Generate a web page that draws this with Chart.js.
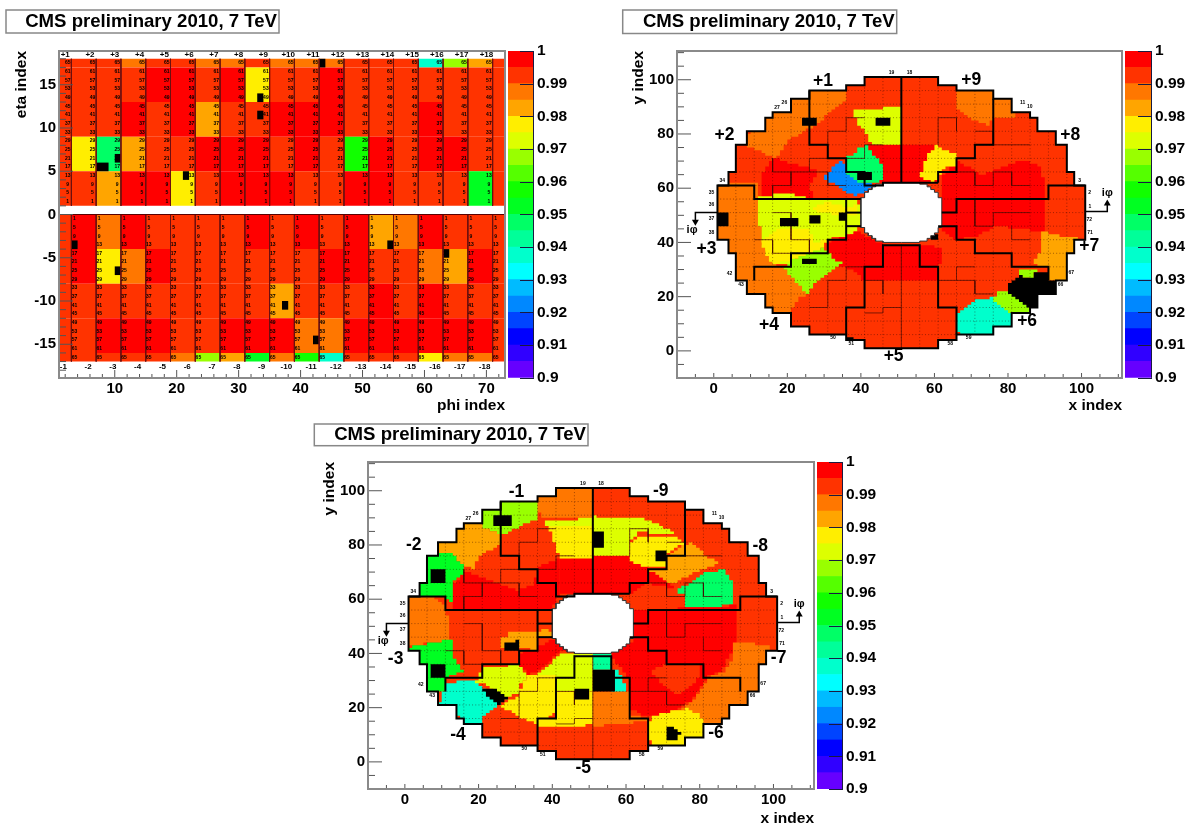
<!DOCTYPE html>
<html>
<head>
<meta charset="utf-8">
<script src="https://cdn.jsdelivr.net/npm/chart.js@4"></script>
<style>
html, body { margin: 0; background: #fff; overflow: hidden; }
canvas { position: absolute; }
</style>
</head>
<body>
<canvas id="hb" style="left:0;top:0" width="510" height="416"></canvas>
<canvas id="hbBar" style="left:500px;top:30px" width="90" height="360"></canvas>
<canvas id="hePlus" style="left:600px;top:0" width="530" height="416"></canvas>
<canvas id="hePlusBar" style="left:1117px;top:30px" width="75" height="360"></canvas>
<canvas id="heMinus" style="left:290px;top:415px" width="530" height="414"></canvas>
<canvas id="heMinusBar" style="left:809px;top:442px" width="90" height="360"></canvas>
<script>
// efficiency (middle of its palette band)
const R = 0.9975, O1 = 0.9925, O2 = 0.9875, A = 0.9825, Y = 0.9775, LY = 0.9725;
const LG = 0.9675, G1 = 0.9575, G2 = 0.9525, G3 = 0.9475, G4 = 0.9425, C1 = 0.9375, B1 = 0.9225;

const bandLow = [0.9, 0.905, 0.91, 0.915, 0.92, 0.925, 0.93, 0.935, 0.94, 0.945, 0.95, 0.955, 0.96, 0.965, 0.97, 0.975, 0.98, 0.985, 0.99, 0.995];
const palette = ['#6600ff', '#3000ff', '#0000ff', '#0044ff', '#0088ff', '#00bbff', '#00ffff', '#00ffcc', '#00ff99', '#00ff66', '#00ff22', '#11ff00', '#55ff00', '#99ff00', '#ddff00', '#ffee00', '#ffa500', '#ff7700', '#ff3300', '#ff0000'];
const barTicks = [0.9, 0.91, 0.92, 0.93, 0.94, 0.95, 0.96, 0.97, 0.98, 0.99, 1];

// barrel: columns are phi 1-3, then the wedges of 4 phi, then 71-73
const phiEdges = [1, 3, 7, 11, 15, 19, 23, 27, 31, 35, 39, 43, 47, 51, 55, 59, 63, 67, 71, 73];
const plusEta17 = [O1, O1, O1, O2, O1, O1, O2, O2, O1, O2, O2, O2, O1, O1, O1, C1, LG, A, O1];
const plusEta13 = [O1, O1, O1, O1, R, R, O1, R, Y, O1, O1, R, O1, O1, O1, O1, O1, O1, O1];
const plusEta9 = [O1, O1, O1, R, O1, R, A, O1, O1, R, R, R, O1, O1, O1, R, O1, O1, O1];
const plusEta5 = [O1, Y, G3, A, O1, O1, R, R, R, O1, R, O1, G1, R, O1, R, R, O1, O1];
const plusEta1 = [O1, O1, A, R, R, Y, O1, R, R, R, O1, O1, R, R, O1, O1, O1, G2, O1];
const minusEta0 = [O1, R, O2, R, O1, O1, O1, O1, R, O1, R, O1, R, A, O2, R, O1, O1, O1];
const minusEta4 = [O1, R, Y, O2, R, O1, O1, O1, O1, O1, O1, R, R, O1, O1, O2, A, R, O1];
const minusEta8 = [O1, O1, O1, O1, O1, O1, O1, O1, O1, A, O1, O1, O1, R, O1, R, O1, O1, O1];
const minusEta12 = [O1, O1, R, R, R, O1, O1, R, R, R, O2, O2, R, R, R, R, R, R, O1];
const minusEta16 = [O1, O1, O1, O1, O1, O2, LG, A, G2, O2, G1, C1, O1, O1, O1, Y, O2, O2, O1];
const barrelRows = [
	[18, 17, plusEta17], [17, 13, plusEta13], [13, 9, plusEta9], [9, 5, plusEta5], [5, 1, plusEta1],
	[0, -4, minusEta0], [-4, -8, minusEta4], [-8, -12, minusEta8], [-12, -16, minusEta12], [-16, -17, minusEta16]
];
// dead towers [phi from, phi to, eta from, eta to]
const barrelDead = [[33, 34, 13, 14], [33, 34, 11, 12], [10, 11, 6, 7], [7, 9, 5, 6], [21, 22, 4, 5], [43, 44, 17, 18],
	[3, 4, -4, -3], [10, 11, -7, -6], [37, 38, -11, -10], [42, 43, -15, -14], [54, 55, -4, -3], [63, 64, -5, -4]];
const towerNumbers = [65, 61, 57, 53, 49, 45, 41, 37, 33, 29, 25, 21, 17, 13, 9, 5, 1];
const barrelXTicks = [10, 20, 30, 40, 50, 60, 70];
const barrelYTicks = [-15, -10, -5, 0, 5, 10, 15];

// endcap geometry, in x/y index
const ringUpperLeft = [[51, 101], [41, 101], [41, 98], [36, 98], [36, 96], [26, 96], [26, 93], [21, 93], [21, 88], [16, 88], [16, 86], [14, 86], [14, 81], [9, 81], [9, 76], [6, 76], [6, 66], [4, 66], [4, 61], [1, 61], [1, 51]];
const holeUpperLeft = [[51, 62], [46, 62], [46, 61.5], [44, 61.5], [44, 60.5], [43, 60.5], [43, 59.5], [42, 59.5], [42, 58.5], [41, 58.5], [41, 56.5], [40, 56.5], [40, 51]];
const sectorLines = [
	[[51, 101], [51, 62]],
	[[26, 96], [26, 76], [31, 76], [31, 71], [36, 71], [36, 66], [41, 66], [41, 61], [46, 61], [46, 62], [61, 62]],
	[[1, 61], [11, 61], [11, 56], [36, 56], [40, 56]],
	[[36, 56], [36, 41], [31, 41], [31, 36], [21, 36], [21, 31], [11, 31], [11, 26]],
	[[36, 51], [40, 51]], [[36, 46], [40, 46]],
	[[36, 6], [36, 16], [41, 16], [41, 31], [46, 31], [46, 39], [56, 39], [56, 31], [61, 31], [61, 16], [66, 16], [66, 6]],
	[[91, 26], [91, 31], [81, 31], [81, 36], [71, 36], [71, 41], [66, 41], [66, 46], [61, 46]],
	[[101, 61], [91, 61], [91, 56], [66, 56], [66, 51], [62, 51]],
	[[76, 93], [76, 76], [71, 76], [71, 71], [66, 71], [66, 66], [61, 66], [61, 62]]
];
const thinLines = [
	[[51, 1], [51, 39]], [[16, 71], [16, 66], [21, 66], [26, 66], [26, 71], [31, 71]], [[21, 66], [21, 61], [16, 61], [16, 56]],
	[[26, 66], [31, 66], [31, 61], [36, 61]], [[31, 76], [31, 81], [36, 81], [36, 86], [41, 86]], [[36, 71], [41, 71], [41, 76], [46, 76]],
	[[11, 41], [16, 41], [16, 36], [21, 36]], [[16, 51], [21, 51], [21, 41], [26, 41], [26, 36]],
	[[31, 21], [31, 26], [36, 26], [36, 31], [41, 31]], [[26, 16], [31, 16], [31, 21]], [[41, 14], [46, 14], [46, 16], [51, 16]], [[41, 26], [46, 26], [46, 21]],
	[[66, 66], [71, 66], [71, 61], [76, 61], [76, 66], [81, 66], [81, 61], [86, 61]], [[71, 81], [76, 81], [76, 76], [86, 76]], [[66, 26], [71, 26], [71, 21], [76, 21]],
	[[61, 76], [61, 86], [66, 86], [66, 81]], [[71, 56], [71, 46], [76, 46], [76, 51], [86, 51]], [[86, 41], [81, 41], [81, 46]], [[61, 26], [66, 26], [66, 31], [71, 31]]
];
const indexLabels = [['19', 48.3, 102.8], ['18', 53.2, 102.8], ['26', 19.2, 91.6], ['27', 17.2, 89.6], ['34', 2.3, 62.8], ['35', -0.6, 58.4], ['36', -0.6, 53.8],
	['37', -0.6, 48.7], ['38', -0.6, 43.7], ['42', 4.3, 28.4], ['43', 7.4, 24.6], ['50', 32.4, 4.8], ['51', 37.4, 2.6], ['58', 64.3, 2.6], ['59', 69.3, 4.8],
	['66', 94.3, 24.6], ['67', 97.2, 28.7], ['71', 102.3, 43.7], ['72', 102.1, 48.4], ['1', 102.3, 53.3], ['2', 102.2, 58.4], ['3', 99.5, 62.7], ['10', 85.9, 90], ['11', 84, 91.5]];
const endcapTicks = [0, 20, 40, 60, 80, 100];

// plus endcap: blocks of equal efficiency, painted in this order
const plusRegions = [
	[O2, [[8, 78], [20, 100], [36, 100], [36, 92], [31, 87], [28, 83], [21, 78], [17, 71], [9, 76]]],
	[R, [[13, 66], [16, 71], [21, 69], [29, 66], [26, 61], [27, 56], [13, 56]]],
	[R, [[42, 76.3], [60.5, 76], [60.5, 62], [45, 62], [45, 68]]],
	[B1, [[29, 64.3], [34.9, 70.5], [36.2, 66], [41.2, 61.6], [44.4, 61.2], [39.1, 56.9], [32.6, 61.8]]],
	[G3, [[36, 71.7], [41.2, 76], [45.7, 68], [45.9, 62.5], [41.2, 61.6], [36.2, 66]]],
	[LY, [[37.2, 88.4], [49, 90], [51, 90], [51, 76.3], [43, 76.3], [41.2, 81], [39.4, 84]]],
	[O2, [[0, 62], [12, 62], [12, 50], [13, 41], [14, 36], [16, 32], [18, 30.5], [21, 29], [26, 21], [23, 19], [21, 14], [10, 14], [0, 30]]],
	[LY, [[12, 57], [20, 58], [26, 56], [38, 56], [40, 52], [40, 46], [37, 42], [33, 42], [31, 40], [25, 38], [21, 32], [16, 32], [13, 42], [12, 50]]],
	[Y, [[13, 41], [17, 45], [26, 45], [27, 40], [31, 41], [29, 36], [21, 33], [16, 32], [14, 36]]],
	[Y, [[26, 52], [30, 55], [36, 53], [39, 54], [39, 50], [35, 50], [30, 51]]],
	[R, [[31, 40], [38, 44], [40, 43], [46, 39], [56, 39], [62, 38], [61, 26], [41, 26], [39, 29], [34, 32], [31, 35]]],
	[LG, [[19, 30.5], [21, 33.6], [29, 37.9], [34.9, 31.7], [28, 25], [25.8, 21.3], [21.8, 26.8]]],
	[R, [[62, 62], [62, 65], [66, 70], [72, 65], [77, 67], [82, 70], [88, 69], [90, 62], [90, 44], [77, 46], [72, 42], [66, 41], [62, 45]]],
	[Y, [[60.3, 75.5], [65.7, 72], [65.7, 68], [62.5, 67], [60.3, 62], [56.2, 64], [56.2, 66], [58.4, 73]]],
	[O2, [[66, 90], [66, 97], [82, 97], [82, 86], [76, 86], [75, 83], [71, 85], [68, 88]]],
	[A, [[89.2, 44], [95.9, 41.8], [99, 41.6], [99, 36], [97, 26], [91, 26], [90.6, 30.5], [86, 32.3], [88.8, 37.3]]],
	[C1, [[66.3, 14], [71, 19], [76, 19.7], [80.8, 17.6], [80.8, 9], [76, 9], [76, 6], [67.9, 6], [66.3, 7]]],
	[LG, [[82.8, 30], [87.9, 29.6], [87, 26], [85, 27], [83, 27.7]]],
	[LG, [[76.2, 20], [78.6, 23.2], [80.2, 21.5], [82.8, 19], [86, 16.7], [86, 14.3], [81, 14.3], [76.1, 19]]]
];
const plusDead = [
	[[24, 83], [27.5, 83], [27.5, 86], [24, 86]], [[44, 83], [48, 83], [48, 86], [44, 86]], [[39, 63], [43, 63], [43, 66], [39, 66]],
	[[1, 46], [4, 46], [4, 51], [1, 51]], [[18, 46], [22.5, 46], [22.5, 48.5], [18, 48.5]], [[26, 47], [29, 47], [29, 49.5], [26, 49.5]],
	[[34, 48], [36, 48], [36, 51], [34, 51]], [[24, 31.5], [27.5, 31.5], [27.5, 34], [24, 34]], [[36, 4], [39, 4], [36, 6]], [[58, 41], [60, 44], [61, 41]],
	[[80.2, 21.9], [80.2, 25], [82.8, 27.7], [86.9, 26.5], [87, 29.3], [90.6, 29], [91, 26], [93.3, 25.6], [93.3, 21], [88, 21], [88, 16], [86, 16], [83, 19]]
];
const plusSectors = [['+1', 29.7, 99.4], ['+2', 2.9, 79.6], ['+3', -2, 37.6], ['+4', 15, 9.6], ['+5', 48.9, -2.1], ['+6', 85.2, 10.9], ['+7', 102.1, 38.7], ['+8', 96.9, 79.7], ['+9', 70, 99.7]];

// minus endcap
const minusRegions = [
	[O2, [[36, 102], [51, 102], [51, 90], [37, 89.5], [36, 95]]],
	[LG, [[21, 94], [21, 86], [26, 83.5], [31, 87], [36, 90], [36, 97], [26, 97]]],
	[A, [[8, 82], [14, 87], [16, 89], [21, 89], [21, 86], [26, 83.5], [26, 80], [20, 75], [18.5, 71], [16, 73], [12, 76], [8, 76]]],
	[R, [[13, 66], [16, 70], [21, 68], [30, 63], [35, 66], [36, 72], [42, 75.4], [42, 62], [40, 56], [13, 56]]],
	[R, [[42, 75.4], [61, 76.3], [61, 62], [42, 62]]],
	[R, [[61, 74], [66, 71], [69, 68], [73, 64], [66, 66], [62, 62], [61, 62]]],
	[G2, [[5, 77], [12, 77], [16, 72], [16, 69], [13, 66], [13, 59], [11, 61], [3, 61], [3, 67], [5, 67]]],
	[O2, [[0, 61], [7, 61], [11, 57], [12, 50], [12.5, 44], [7, 44], [0, 42]]],
	[G2, [[0, 42], [7, 44], [13, 45], [13, 38], [16, 33], [11, 31], [11, 26], [5, 26], [5, 36], [3, 36], [3, 40]]],
	[LY, [[37.5, 88.5], [51, 90], [51, 87], [39, 87]]],
	[Y, [[39, 87], [51, 87], [51, 75.4], [42, 75.4], [40.5, 81]]],
	[LY, [[51, 90.5], [64, 89.5], [69, 87], [74, 83.5], [69, 84], [64, 85], [61, 81], [61, 76.3], [51, 76.3]]],
	[Y, [[61, 80.6], [62.8, 83.2], [73.7, 83.4], [76, 80.4], [71, 76.3], [71, 71.5], [66, 71.5], [61, 74]]],
	[A, [[66, 71], [71, 71.5], [71, 76.3], [76, 80.4], [77.3, 80.9], [84.6, 72.7], [81, 71], [73.3, 65.7], [69.6, 68]]],
	[G3, [[73.3, 63], [81, 69.6], [86, 71], [89.1, 66.4], [89.1, 58], [82.8, 57], [76.3, 56.6], [76.3, 61.5]]],
	[R, [[62, 56], [76, 56.6], [82, 56.5], [90, 58], [90, 44], [86, 33], [82, 31], [77, 21.5], [73, 18.5], [66, 16.5], [63, 18.5], [61, 20], [61, 31], [56, 39], [56, 41], [62, 45]]],
	[O1, [[67, 34], [71, 36.3], [80, 36], [80, 31], [77.7, 27.7], [74, 24.6], [71, 27.6], [68.7, 30.7]]],
	[O2, [[86, 33], [89, 38], [89, 44], [99, 43], [99, 20], [85, 12], [76, 12], [73, 18.5], [77, 21.5], [82, 31]]],
	[Y, [[66, 14.7], [67.4, 17], [72.9, 19], [76.4, 19.7], [80, 16.9], [81, 14], [81, 9], [76, 9], [76, 6], [68, 6], [66, 9]]],
	[C1, [[9, 21.5], [11, 29], [18.5, 30.7], [21.2, 26.5], [26.2, 21], [21.2, 16.5], [21.2, 14], [16, 14], [14, 17.8]]],
	[LY, [[18.8, 29.5], [21.2, 35], [30.2, 35.7], [33.9, 31.5], [32, 29.4], [30.7, 25.3], [28, 23.4], [22.5, 28.3]]],
	[Y, [[28, 22.7], [30.7, 25], [33, 31.5], [37.5, 32], [40.7, 31.5], [40.7, 17.6], [35.7, 14.2], [32, 16], [26.2, 21]]],
	[LY, [[33.9, 31.5], [37.5, 34.5], [41.6, 40], [46, 40.5], [51, 40], [51, 26], [41, 26], [41, 32], [37.5, 32]]],
	[Y, [[41, 26], [51, 26], [51, 14], [48, 12.5], [36, 13], [36, 16], [41, 16]]],
	[O2, [[51, 26], [61, 26], [61, 17], [66, 16], [66, 15], [51, 13]]],
	[R, [[31, 40], [37.5, 44], [40, 45], [44, 41], [41.6, 40], [37.5, 34.5], [34, 32], [31, 36]]],
	[A, [[26.2, 45.6], [28.4, 48], [32, 47.5], [39.3, 49.2], [39.8, 46], [36, 45.5], [36, 41.2], [31, 42], [26.2, 42]]],
	[G4, [[51, 40], [55.8, 40], [55.8, 34], [51, 34]]],
	[C1, [[56, 34], [57.5, 34], [59, 30], [60, 26], [56, 26]]]
];
const minusDead = [
	[[24, 87], [29, 87], [29, 91], [24, 91]], [[7, 66], [11, 66], [11, 71], [7, 71]], [[7, 31], [11, 31], [11, 36], [7, 36]],
	[[21.2, 26.5], [22.5, 28.3], [28, 23.4], [26.2, 21.3], [23.5, 22.7]], [[26.5, 41], [31, 41], [31, 44.5], [26.5, 43]], [[46, 23], [50, 23], [50, 26.5], [46, 26.5]],
	[[51, 26], [57, 26], [57, 34], [51, 34]], [[51, 79], [54, 79], [54, 85], [51, 85]], [[68, 74], [71, 74], [71, 78], [68, 78]], [[71, 8], [73, 8], [75, 11], [73, 13], [71, 13]]
];
const minusSectors = [['-1', 30.3, 99.6], ['-2', 2.4, 80], ['-3', -2.5, 37.7], ['-4', 14.4, 9.8], ['-5', 48.4, -2.5], ['-6', 84.4, 10.5], ['-7', 101.4, 38.4], ['-8', 96.4, 79.7], ['-9', 69.4, 100]];

const FONT = '"Liberation Sans", Arial, sans-serif';
const TITLE = 'CMS preliminary 2010, 7 TeV';

function colorOf(v) {
	return palette[Math.min(19, Math.floor((v - 0.9) / 0.005 + 1e-6))];
}
function toPoints(pts) {
	return pts.map(p => ({x: p[0], y: p[1]}));
}
function area(pts, color) {
	return {data: toPoints(pts), showLine: true, fill: 'shape', backgroundColor: color, borderWidth: 0, pointRadius: 0};
}
function stroke(pts, color, width, dash) {
	return {data: toPoints(pts), showLine: true, fill: false, borderColor: color, borderWidth: width, borderDash: dash || [], pointRadius: 0};
}
function paintOrder(list) {
	// chart.js paints high order first
	list.forEach((d, i) => { d.order = list.length - i; });
	return list;
}
// the map is made of whole crystals, so a slanted edge of a block runs in steps of one index
function onCrystals(pts) {
	const out = [];
	pts.forEach((p, i) => {
		const q = pts[(i + 1) % pts.length];
		const n = Math.max(1, Math.ceil(Math.max(Math.abs(q[0] - p[0]), Math.abs(q[1] - p[1]))));
		let lastY = Math.round(p[1]);
		for (let k = 0; k <= n; k++) {
			const x = Math.round(p[0] + (q[0] - p[0]) * k / n), y = Math.round(p[1] + (q[1] - p[1]) * k / n);
			out.push([x, lastY], [x, y]);
			lastY = y;
		}
	});
	return out;
}

function marks(cfg) {
	return {
		id: 'marks',
		afterDatasetsDraw(chart) {
			const ctx = chart.ctx, a = chart.chartArea, sx = chart.scales.x, sy = chart.scales.y;
			ctx.save();
			ctx.strokeStyle = '#555';
			ctx.lineWidth = 1;
			ctx.beginPath();
			for (let v = cfg.xFrom; v <= sx.max; v += cfg.xStep) {
				const len = v % cfg.xMajor === 0 ? cfg.xLong : cfg.xShort, px = sx.getPixelForValue(v);
				ctx.moveTo(px, a.bottom);
				ctx.lineTo(px, a.bottom - len);
			}
			for (let v = cfg.yFrom; v <= sy.max; v += cfg.yStep) {
				const len = v % cfg.yMajor === 0 ? 14 : 7, py = sy.getPixelForValue(v);
				ctx.moveTo(a.left, py);
				ctx.lineTo(a.left + len, py);
			}
			ctx.stroke();
			ctx.strokeStyle = '#8a8a8a';
			ctx.lineWidth = 2;
			ctx.strokeRect(a.left, a.top, a.right - a.left, a.bottom - a.top);

			ctx.textAlign = 'center';
			ctx.textBaseline = 'middle';
			ctx.fillStyle = '#000';
			cfg.texts.forEach(t => {
				ctx.font = t.font;
				t.items.forEach(i => ctx.fillText(i[0], sx.getPixelForValue(i[1]), sy.getPixelForValue(i[2])));
			});

			const b = cfg.box;
			ctx.fillStyle = '#fff';
			ctx.fillRect(b[0], b[1], b[2], b[3]);
			ctx.strokeStyle = '#888';
			ctx.lineWidth = 1.5;
			ctx.strokeRect(b[0], b[1], b[2], b[3]);
			ctx.fillStyle = '#000';
			ctx.font = 'bold 18.6px ' + FONT;
			ctx.textAlign = 'right';
			ctx.fillText(TITLE, b[0] + b[2] - 2, b[1] + b[3] / 2);
			ctx.restore();
		}
	};
}

function panel(id, p) {
	return new Chart(document.getElementById(id), {
		type: 'scatter',
		data: {datasets: paintOrder(p.datasets)},
		plugins: [marks(p.marks)],
		options: {
			responsive: false,
			animation: false,
			events: [],
			layout: {padding: {top: p.top, right: p.right, left: 0, bottom: 0}},
			plugins: {legend: {display: false}, tooltip: {enabled: false}},
			scales: {
				x: {
					type: 'linear', min: p.xMin, max: p.xMax,
					grid: {display: false, drawTicks: false}, border: {display: false},
					afterBuildTicks: s => { s.ticks = p.xTicks.map(v => ({value: v})); },
					afterFit: s => { s.height = p.xHeight; },
					ticks: {color: '#000', font: {family: FONT, size: 15, weight: 'bold'}, padding: 2, maxRotation: 0, autoSkip: false},
					title: {display: true, text: p.xTitle, align: 'end', color: '#000', font: {family: FONT, size: 15.5, weight: 'bold'}, padding: {top: 0, bottom: 0.5}}
				},
				y: {
					type: 'linear', min: p.yMin, max: p.yMax,
					grid: {display: false, drawTicks: false}, border: {display: false},
					afterBuildTicks: s => { s.ticks = p.yTicks.map(v => ({value: v})); },
					afterFit: s => { s.width = p.yWidth; },
					ticks: {color: '#000', font: {family: FONT, size: 15, weight: 'bold'}, padding: 3, autoSkip: false},
					title: {display: true, text: p.yTitle, align: 'end', color: '#000', font: {family: FONT, size: 15.5, weight: 'bold'}, padding: {top: p.yTitlePad, bottom: 0}}
				}
			}
		}
	});
}

function colorBar(id, top, right, bottom, axisWidth) {
	new Chart(document.getElementById(id), {
		type: 'bar',
		data: {
			labels: [''],
			datasets: bandLow.map((lo, i) => ({
				data: [[lo, lo + 0.005]], backgroundColor: palette[i], borderWidth: 0,
				barPercentage: 1, categoryPercentage: 1, grouped: false
			}))
		},
		plugins: [{
			id: 'barTicks',
			afterDatasetsDraw(chart) {
				const ctx = chart.ctx, a = chart.chartArea, sy = chart.scales.y;
				ctx.save();
				ctx.strokeStyle = '#1a1a40';
				ctx.lineWidth = 1;
				ctx.beginPath();
				barTicks.forEach(v => {
					const py = Math.round(sy.getPixelForValue(v)) + 0.5;
					ctx.moveTo(a.right, py);
					ctx.lineTo(a.right - 14, py);
				});
				ctx.moveTo(a.right - 0.5, a.top);
				ctx.lineTo(a.right - 0.5, a.bottom);
				ctx.stroke();
				ctx.restore();
			}
		}],
		options: {
			responsive: false,
			animation: false,
			events: [],
			layout: {padding: {top: top, right: 0, left: 8, bottom: bottom}},
			plugins: {legend: {display: false}, tooltip: {enabled: false}},
			scales: {
				x: {display: false},
				y: {
					position: 'right', min: 0.9, max: 1,
					grid: {display: false, drawTicks: false}, border: {display: false},
					afterBuildTicks: s => { s.ticks = barTicks.map(v => ({value: v})); },
					afterFit: s => { s.width = axisWidth; },
					ticks: {color: '#000', font: {family: FONT, size: 15.5, weight: 'bold'}, padding: 3, autoSkip: false, callback: v => String(v)}
				}
			}
		}
	});
}

// barrel panel
const barrelSets = [];
barrelRows.forEach(row => {
	row[2].forEach((v, c) => {
		const x0 = phiEdges[c], x1 = phiEdges[c + 1];
		barrelSets.push(area([[x0, row[0]], [x1, row[0]], [x1, row[1]], [x0, row[1]]], colorOf(v)));
	});
});
barrelDead.forEach(d => barrelSets.push(area([[d[0], d[2]], [d[1], d[2]], [d[1], d[3]], [d[0], d[3]]], '#000')));
phiEdges.slice(1, 19).forEach(phi => {
	barrelSets.push(stroke([[phi, 18], [phi, 1]], '#6b1010', 1));
	barrelSets.push(stroke([[phi, 0], [phi, -17]], '#6b1010', 1));
});
barrelSets.push(stroke([[1, 0], [73, 0]], '#5a0000', 1));

const topHeaders = [], bottomHeaders = [], towerText = [];
for (let w = 0; w < 18; w++) {
	topHeaders.push(['+' + (w + 1), 2 + 4 * w, 18.45]);
	bottomHeaders.push(['-' + (w + 1), 1.7 + 4 * w, -17.65]);
	towerNumbers.forEach((n, k) => {
		towerText.push([String(n), 2.4 + 4 * w, 17.5 - k]);
		towerText.push([String(towerNumbers[16 - k]), 3.5 + 4 * w, -0.5 - k]);
	});
}

panel('hb', {
	datasets: barrelSets, top: 51, right: 5, xMin: 1, xMax: 73, yMin: -18.9, yMax: 18.9,
	xTicks: barrelXTicks, yTicks: barrelYTicks, xHeight: 38, yWidth: 59, yTitlePad: 12.5,
	xTitle: 'phi index', yTitle: 'eta index',
	marks: {
		xFrom: 2, xStep: 2, xMajor: 10, xLong: 8, xShort: 4, yFrom: -18, yStep: 1, yMajor: 5,
		box: [6, 10, 273, 23],
		texts: [
			{font: 'bold 8px ' + FONT, items: topHeaders.concat(bottomHeaders)},
			{font: 'bold 5px ' + FONT, items: towerText}
		]
	}
});
colorBar('hbBar', 21, 0, 12, 56);

// endcap panels
function mirrorX(line) { return line.map(p => [102 - p[0], p[1]]); }
function mirrorY(line) { return line.map(p => [p[0], 102 - p[1]]); }
function closedLoop(upperLeft) {
	const lowerLeft = mirrorY(upperLeft).reverse();
	const left = upperLeft.concat(lowerLeft);
	return left.concat(mirrorX(left).reverse());
}
const ringLoop = closedLoop(ringUpperLeft);
const holeLoop = closedLoop(holeUpperLeft);
const plotCorners = [[-11, -11], [-11, 112], [112, 112], [112, -11], [-11, -11]];
const outsideRing = plotCorners.concat(ringLoop, [ringLoop[0]], [[-11, -11]]);

function endcapSets(regions, dead) {
	const list = [area([[-11, -11], [112, -11], [112, 112], [-11, 112]], colorOf(O1))];
	regions.forEach(r => list.push(area(onCrystals(r[1]), colorOf(r[0]))));
	for (let v = 6; v <= 96; v += 5) {
		list.push(stroke([[v, 0], [v, 102]], 'rgba(40,0,0,0.55)', 0.8, [1, 2.2]));
		list.push(stroke([[0, v], [102, v]], 'rgba(40,0,0,0.55)', 0.8, [1, 2.2]));
	}
	thinLines.forEach(l => list.push(stroke(l, 'rgba(70,10,0,0.7)', 1)));
	dead.forEach(d => list.push(area(onCrystals(d), '#000')));
	list.push(area(outsideRing, '#fff'));
	list.push(area(holeLoop, '#fff'));
	list.push(stroke(holeLoop, '#333', 1));
	list.push(stroke(ringLoop.concat([ringLoop[0]]), '#000', 2));
	sectorLines.forEach(l => list.push(stroke(l, '#000', 2)));
	// i-phi arrows
	list.push(stroke([[1, 51], [-5, 51], [-5, 48]], '#000', 1.5));
	list.push(stroke([[101, 51.4], [107, 51.4], [107, 54]], '#000', 1.5));
	list.push({data: [{x: -5, y: 47.6}], pointStyle: 'triangle', rotation: 180, pointRadius: 4, backgroundColor: '#000', borderWidth: 0});
	list.push({data: [{x: 107, y: 54.4}], pointStyle: 'triangle', pointRadius: 4, backgroundColor: '#000', borderWidth: 0});
	return list;
}
const iphiLabels = [['i\u03c6', -5.9, 44.6], ['i\u03c6', 107, 58.4]];

panel('hePlus', {
	datasets: endcapSets(plusRegions, plusDead), top: 51, right: 8, xMin: -10, xMax: 111, yMin: -10, yMax: 110.6,
	xTicks: endcapTicks, yTicks: endcapTicks, xHeight: 38, yWidth: 77, yTitlePad: 29,
	xTitle: 'x index', yTitle: 'y index',
	marks: {
		xFrom: -5, xStep: 5, xMajor: 20, xLong: 5, xShort: 4, yFrom: -5, yStep: 5, yMajor: 20,
		box: [22.7, 10, 274, 23.5],
		texts: [
			{font: 'bold 17.5px ' + FONT, items: plusSectors},
			{font: 'bold 11px ' + FONT, items: iphiLabels},
			{font: 'bold 5px ' + FONT, items: indexLabels}
		]
	}
});
colorBar('hePlusBar', 21, 0, 12, 40);

panel('heMinus', {
	datasets: endcapSets(minusRegions, minusDead), top: 47, right: 6, xMin: -10, xMax: 111, yMin: -10, yMax: 110.6,
	xTicks: endcapTicks, yTicks: endcapTicks, xHeight: 40, yWidth: 78, yTitlePad: 30.5,
	xTitle: 'x index', yTitle: 'y index',
	marks: {
		xFrom: -5, xStep: 5, xMajor: 20, xLong: 5, xShort: 4, yFrom: -5, yStep: 5, yMajor: 20,
		box: [24.3, 9, 273.7, 21.7],
		texts: [
			{font: 'bold 17.5px ' + FONT, items: minusSectors},
			{font: 'bold 11px ' + FONT, items: iphiLabels},
			{font: 'bold 5px ' + FONT, items: indexLabels}
		]
	}
});
colorBar('heMinusBar', 20, 0, 13, 56);
</script>
</body>
</html>
